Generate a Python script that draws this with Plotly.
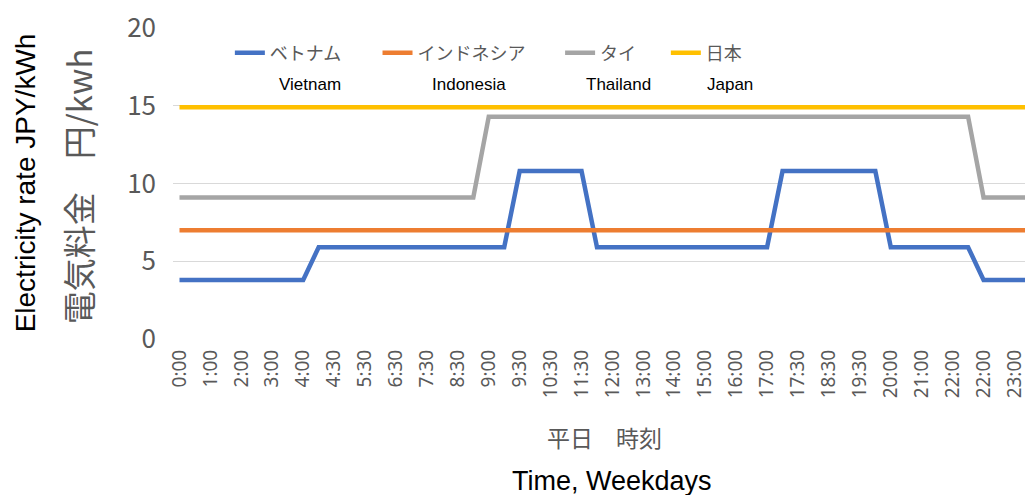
import numpy as np
import plotly.graph_objects as go

# ---- data ----
tick_labels = ["0:00", "1:00", "2:00", "3:00", "4:00", "4:30", "5:30", "6:30", "7:30", "8:30",
               "9:00", "9:30", "10:30", "11:30", "12:00", "13:00", "14:00", "15:00", "16:00",
               "17:00", "17:30", "18:30", "19:30", "20:00", "21:00", "22:00", "22:00", "23:00"]

# values sampled at half-steps between the labelled categories (56 points)
vietnam = [3.8, 3.8, 3.8, 3.8, 3.8, 3.8, 3.8, 3.8, 3.8, 5.9,
           5.9, 5.9, 5.9, 5.9, 5.9, 5.9, 5.9, 5.9, 5.9, 5.9,
           5.9, 5.9, 10.8, 10.8, 10.8, 10.8, 10.8, 5.9, 5.9, 5.9,
           5.9, 5.9, 5.9, 5.9, 5.9, 5.9, 5.9, 5.9, 5.9, 10.8,
           10.8, 10.8, 10.8, 10.8, 10.8, 10.8, 5.9, 5.9, 5.9, 5.9,
           5.9, 5.9, 3.8, 3.8, 3.8, 3.8]
indonesia = [7.0] * 56
thailand = [9.1, 9.1, 9.1, 9.1, 9.1, 9.1, 9.1, 9.1, 9.1, 9.1,
            9.1, 9.1, 9.1, 9.1, 9.1, 9.1, 9.1, 9.1, 9.1, 9.1,
            14.3, 14.3, 14.3, 14.3, 14.3, 14.3, 14.3, 14.3, 14.3, 14.3,
            14.3, 14.3, 14.3, 14.3, 14.3, 14.3, 14.3, 14.3, 14.3, 14.3,
            14.3, 14.3, 14.3, 14.3, 14.3, 14.3, 14.3, 14.3, 14.3, 14.3,
            14.3, 14.3, 9.1, 9.1, 9.1, 9.1]
japan = [14.9] * 56

series_names_jp = ["ベトナム", "インドネシア", "タイ", "日本"]
series_names_en = ["Vietnam", "Indonesia", "Thailand", "Japan"]
series_values = [vietnam, indonesia, thailand, japan]
series_colors = ["#4472C4", "#ED7D31", "#A5A5A5", "#FFC000"]

x_pos = np.arange(len(vietnam)) / 2.0  # half-step positions on the category scale

# ---- layout geometry (pixels) ----
W, H = 1027, 495
ML, MR, MT, MB = 173, 0, 28, 156
PW, PH = W - ML - MR, H - MT - MB


def px(xp):
    return (xp - ML) / PW


def py(yp):
    return (H - MB - yp) / PH


grey_txt = "#595959"
jp_font = "Noto Sans CJK JP"

fig = go.Figure()
legend_ids = ["legend", "legend2", "legend3", "legend4"]
for name, vals, col, lid in zip(series_names_jp, series_values, series_colors, legend_ids):
    fig.add_trace(go.Scatter(x=x_pos, y=vals, mode="lines", name=name,
                             line=dict(color=col, width=4.5), legend=lid,
                             hoverinfo="skip"))

legend_left_px = [230, 378, 561, 667]
common_legend = dict(orientation="h", yanchor="middle", xanchor="left",
                     bgcolor="rgba(0,0,0,0)", font=dict(family=jp_font, size=18, color=grey_txt),
                     itemwidth=30, tracegroupgap=0)
legend_layout = {}
for lid, lx in zip(legend_ids, legend_left_px):
    legend_layout[lid] = dict(x=px(lx), y=py(53), **common_legend)

annotations = []
en_centers = [310, 470, 620, 731]
for t, cx in zip(series_names_en, en_centers):
    annotations.append(dict(text=t, x=px(cx), y=py(84), xref="paper", yref="paper",
                            showarrow=False, xanchor="center", yanchor="middle",
                            font=dict(family="Liberation Sans, Arial", size=17, color="#000000")))

annotations += [
    dict(text="Electricity rate JPY/kWh", x=px(25), y=py(183), xref="paper", yref="paper",
         showarrow=False, textangle=-90, xanchor="center", yanchor="middle",
         font=dict(family="Liberation Sans, Arial", size=28, color="#000000")),
    dict(text="電気料金　円/kwh", x=px(78), y=py(186), xref="paper", yref="paper",
         showarrow=False, textangle=-90, xanchor="center", yanchor="middle",
         font=dict(family=jp_font, size=33, color=grey_txt)),
    dict(text="平日　時刻", x=px(606), y=py(437), xref="paper", yref="paper",
         showarrow=False, xanchor="center", yanchor="middle",
         font=dict(family=jp_font, size=23, color=grey_txt)),
    dict(text="Time, Weekdays", x=px(613), y=py(481), xref="paper", yref="paper",
         showarrow=False, xanchor="center", yanchor="middle",
         font=dict(family="Liberation Sans, Arial", size=27, color="#000000")),
]

fig.update_layout(
    width=W, height=H,
    margin=dict(l=ML, r=MR, t=MT, b=MB, pad=0),
    paper_bgcolor="white", plot_bgcolor="white",
    showlegend=True,
    annotations=annotations,
    **legend_layout,
)

fig.update_xaxes(
    range=[-0.21, 27.34],
    tickmode="array", tickvals=list(range(len(tick_labels))), ticktext=tick_labels,
    tickangle=-90, ticks="", showgrid=False, zeroline=False, showline=False,
    tickfont=dict(family="Noto Sans", size=19, color=grey_txt),
    ticklabelstandoff=6, ticklabeloverflow="allow",
)
fig.update_yaxes(
    range=[0, 20], tickvals=[0, 5, 10, 15, 20],
    showgrid=True, gridcolor="#D9D9D9", gridwidth=1, zeroline=False, showline=False, ticks="",
    tickfont=dict(family=jp_font, size=26, color=grey_txt),
    ticklabelstandoff=16,
)

fig.write_html("out.html")
